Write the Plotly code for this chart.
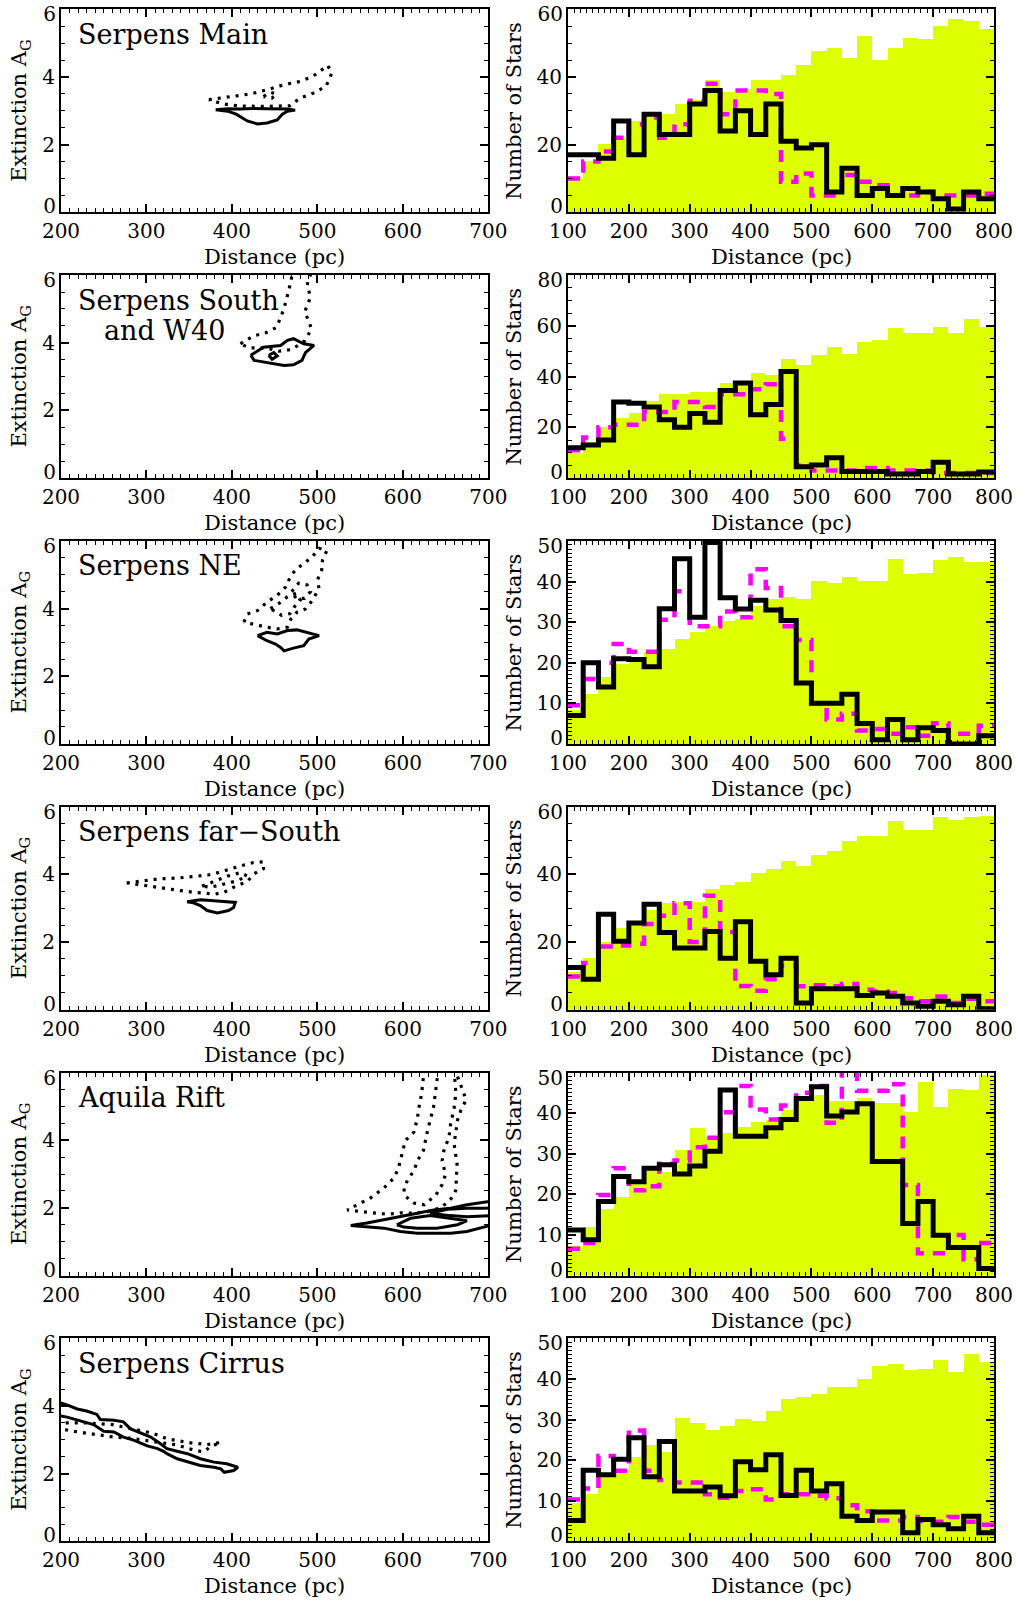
import plotly.graph_objects as go

W, H = 1016, 1600
FONT = "DejaVu Serif"
YEL = "#DDFF00"
MAG = "#FF00FF"

# ---------------- histogram data (bins of 25 pc from 100 to 800) ----------------
bin_edges = list(range(100, 801, 25))

bg1 = [10, 15, 20, 22, 27, 28.5, 29, 32, 33, 39, 35.5, 36.5, 39, 39, 40.5, 43.5, 47.5, 48.5, 45.5, 52, 45, 48.5, 51.5, 51, 55, 57, 56.5, 54]
on1 = [17, 17, 16, 27, 17, 29, 23, 23, 32, 36, 24, 30, 23, 32, 21, 19, 20, 6, 13, 5, 7, 5, 7, 6, 4, 1, 6, 4]
mc1 = [10, 15, 18, 22, 26, 28, 22, 26, 33, 38, 29, 36, 36, 35, 9, 11.5, 5, 5, 11, 9, 8, 5, 5, 6, 5, 5, 5, 5.5]

bg2 = [10, 14, 20, 23.5, 25.5, 30.5, 33, 33, 34, 34, 37.5, 38, 41.5, 40.5, 47, 44.5, 48.5, 51.5, 49, 53.5, 54.5, 59, 57, 57, 59.5, 57, 62.5, 59.5]
on2 = [12, 13, 15, 30, 29.5, 28, 23, 20, 25.5, 22, 34.5, 37.5, 25, 29, 42, 4.5, 5.2, 8, 2.6, 2.6, 2.6, 1.6, 1.6, 2.6, 6.2, 1.6, 1.6, 2.4]
mc2 = [11, 16, 20, 21, 21, 26, 26, 30, 30, 28, 33, 33, 35, 37, 15.5, 5, 3, 3, 3, 4, 4, 3, 3, 3, 2, 2, 2, 2]

bg3 = [8.3, 12.4, 16.5, 19.8, 20.7, 22.7, 23.5, 25.8, 27.7, 29, 30.2, 30.7, 33.9, 35.8, 36.1, 35.8, 40.2, 39.7, 41.2, 40.1, 40.1, 45.5, 41.9, 42, 45.3, 46.1, 44.9, 44.9]
on3 = [7, 20, 14, 21, 20.8, 19, 33.3, 45.6, 31.2, 49.6, 36, 33.2, 35.4, 33, 30.4, 15, 10, 10, 12.2, 5, 1, 6, 1, 4, 3.3, 0, 0, 2]
mc3 = [9.5, 16, 20, 24.6, 22.7, 22.7, 30.6, 37.6, 29, 29, 32.6, 31.2, 43, 38.4, 29, 25.6, 10, 6, 7.4, 3.3, 3.7, 2.5, 4.1, 2, 5.1, 2.5, 2.5, 4.5]

bg4 = [11.3, 15.5, 20.2, 24.1, 26, 29.5, 31.5, 31.8, 31.8, 35.9, 37, 37.9, 40.6, 41.6, 44, 42.5, 45.9, 46.9, 50, 51.4, 51.4, 56, 53.1, 53.3, 57, 56.3, 57, 57.3]
on4 = [12.5, 9, 28.2, 20.2, 25.6, 31.2, 22.8, 18.2, 18.2, 23.1, 15.2, 26, 14.3, 10.3, 15.2, 2, 6.2, 6.2, 6.2, 4.2, 4.9, 4, 2, 1, 2.5, 1.5, 4, 0.3]
mc4 = [9.8, 13.8, 18.7, 19, 19.5, 25.3, 27.8, 31.5, 20, 33.7, 23, 7, 5.6, 9, 13, 6.9, 7.2, 6.9, 7.6, 5.9, 5.4, 4.9, 3.4, 2.5, 3.9, 2, 3.2, 2.5]

bg5 = [7.4, 12, 16.5, 19.4, 23.1, 26.9, 25.6, 31, 36.4, 34.3, 35.1, 36.8, 38, 38.4, 40.9, 43.4, 44.6, 43, 43, 43.8, 42.6, 42.6, 40.5, 47.9, 41.7, 46, 45.7, 49.6]
on5 = [11.2, 8.8, 18.2, 24.4, 23.1, 26.4, 27.3, 25, 27, 30.6, 45.7, 34.3, 34.3, 36.4, 38.4, 43.6, 46.5, 39.3, 40.3, 42.3, 28.1, 28.1, 12.8, 18.2, 9.9, 6.9, 6.9, 1.7]
mc5 = [6.6, 8, 19.8, 26.4, 21, 22, 27.5, 28.3, 31.6, 33.9, 40.2, 46.7, 40.9, 38.4, 41.9, 45, 46.7, 37.6, 50.5, 45.5, 45.5, 47.1, 22.3, 5.5, 5.5, 10, 4, 8]

bg6 = [9.3, 11.7, 15.7, 17.8, 20.8, 23.7, 21.9, 30.2, 29.1, 27.3, 28.3, 30, 29.6, 32.1, 34.9, 35.4, 36.2, 37.9, 37.9, 39.8, 43, 43.6, 42, 42.3, 44.5, 41.7, 46.1, 44.2]
on6 = [5.1, 17.5, 16.4, 20.2, 25.5, 15.9, 24.6, 12.4, 12.4, 13.4, 11.2, 19.6, 17.6, 21.3, 11.3, 17.5, 12.4, 14.2, 6.2, 5.1, 7.2, 7.2, 2.1, 5.4, 4.1, 3.1, 6.2, 2.1]
mc6 = [10.3, 13, 21, 17.4, 27.3, 17.4, 15.1, 14.5, 14.5, 11.6, 10.7, 12.4, 12.8, 10.3, 11.6, 11.6, 11.2, 10.6, 8.9, 7.4, 5.1, 5.1, 6, 5, 4.8, 6, 4.8, 4.1]

hist_ymax = [60, 80, 50, 60, 50, 50]
hist_dtick = [20, 20, 10, 20, 10, 10]
hist_minor = [5, 5, 1, 5, 1, 1]

# ---------------- contour data (distance pc, extinction A_G) ----------------
c1_solid_d = [381, 395, 410, 425, 440, 455, 465, 474, 465, 459, 453, 441, 430, 418, 405, 395, 381]
c1_solid_a = [3.03, 3.06, 3.05, 3.07, 3.06, 3.06, 3.05, 3.02, 2.99, 2.9, 2.73, 2.64, 2.61, 2.7, 2.9, 2.99, 3.03]
c1_dot_d = [373, 402, 422, 441, 461, 480, 495, 512, 517, 510, 495, 480, 468, 440, 410, 390, 373]
c1_dot_a = [3.33, 3.43, 3.5, 3.62, 3.77, 3.87, 4.02, 4.34, 4.12, 3.72, 3.52, 3.38, 3.15, 3.13, 3.14, 3.2, 3.33]
c1_dot2_d = [437, 445, 452, 447, 437]
c1_dot2_a = [3.42, 3.55, 3.5, 3.38, 3.42]

c2_solid_d = [422, 437, 457, 465, 472, 484, 496, 486, 482, 472, 461, 449, 437, 426, 422]
c2_solid_a = [3.63, 3.87, 3.92, 4.07, 4.12, 3.97, 3.92, 3.71, 3.48, 3.35, 3.33, 3.38, 3.43, 3.48, 3.63]
c2_solid2_d = [443, 449, 453, 447, 443]
c2_solid2_a = [3.63, 3.71, 3.61, 3.51, 3.63]
c2_dot_d = [410, 425, 440, 452, 458, 463, 467, 470, 473, 497, 490, 488, 492, 485, 490, 493, 485, 470, 455, 440, 420, 410]
c2_dot_a = [3.97, 4.2, 4.3, 4.45, 4.8, 5.2, 5.6, 6.0, 6.3, 6.3, 5.9, 5.7, 5.35, 4.9, 4.65, 4.4, 4.05, 3.8, 3.75, 3.85, 3.85, 3.97]

c3_solid_d = [430, 441, 453, 465, 476, 488, 502, 490, 484, 472, 461, 457, 451, 441, 430]
c3_solid_a = [3.2, 3.3, 3.25, 3.35, 3.37, 3.3, 3.2, 3.1, 2.9, 2.83, 2.75, 2.85, 2.95, 3.05, 3.2]
c3_dot_d = [414, 418, 430, 441, 453, 463, 469, 476, 484, 494, 502, 511, 506, 505, 500, 502, 494, 486, 476, 469, 465, 453, 441, 426, 414]
c3_dot_a = [3.6, 3.84, 3.94, 4.19, 4.39, 4.64, 4.98, 5.18, 5.33, 5.53, 5.78, 5.71, 5.43, 5.13, 4.84, 4.59, 4.24, 3.99, 3.89, 3.69, 3.45, 3.4, 3.45, 3.52, 3.6]
c3_dot2_d = [445, 455, 465, 475, 480, 473, 468, 458, 445]
c3_dot2_a = [4.0, 4.15, 4.35, 4.45, 4.25, 4.05, 3.85, 3.8, 4.0]
c3_dot3_d = [470, 478, 488, 492, 485, 475, 470]
c3_dot3_a = [4.5, 4.75, 4.7, 4.5, 4.3, 4.3, 4.5]

c4_solid_d = [347.5, 363, 379, 394, 404, 402, 396, 383, 371, 363, 355, 347.5]
c4_solid_a = [3.19, 3.25, 3.22, 3.19, 3.17, 3.02, 2.93, 2.86, 2.93, 3.08, 3.16, 3.19]
c4_dot_d = [277, 297, 316, 336, 351, 361, 372, 384, 396, 410, 425, 437, 437, 426, 418, 402, 391, 379, 367, 355, 340, 320, 301, 285, 277]
c4_dot_a = [3.75, 3.82, 3.87, 3.89, 3.92, 3.95, 3.98, 4.05, 4.15, 4.25, 4.35, 4.37, 4.17, 4.02, 3.79, 3.62, 3.47, 3.41, 3.45, 3.47, 3.52, 3.59, 3.67, 3.72, 3.75]
c4_dot2_d = [365, 380, 395, 410, 418, 405, 390, 375, 365]
c4_dot2_a = [3.65, 3.8, 3.95, 4.05, 3.95, 3.8, 3.7, 3.62, 3.65]

c5_solid_d = [705, 695, 675, 656, 636, 617, 597, 578, 558, 539, 558, 578, 597, 617, 636, 656, 675, 699, 705]
c5_solid_a = [2.2, 2.17, 2.09, 1.99, 1.94, 1.84, 1.74, 1.65, 1.55, 1.48, 1.45, 1.4, 1.3, 1.25, 1.25, 1.25, 1.3, 1.48, 1.5]
c5_solid2_d = [593, 609, 632, 652, 675, 664, 640, 617, 601, 593]
c5_solid2_a = [1.5, 1.69, 1.77, 1.69, 1.62, 1.5, 1.4, 1.4, 1.43, 1.5]
c5_solid3_d = [705, 697, 675, 652, 632, 655, 675, 697, 705]
c5_solid3_a = [2.0, 1.99, 1.99, 1.96, 1.84, 1.77, 1.74, 1.76, 1.77]
c5_dot_d = [625, 622, 619, 617, 613, 603, 599, 595, 590, 578, 562, 535, 550, 566, 582, 597, 613, 629, 643, 654, 660, 663, 662, 664, 662, 660, 662, 664, 668, 674, 670, 664, 662]
c5_dot_a = [6.1, 5.38, 4.99, 4.64, 4.24, 3.99, 3.59, 3.19, 2.89, 2.59, 2.29, 1.94, 1.89, 1.84, 1.81, 1.85, 1.84, 1.89, 1.99, 2.19, 2.39, 2.59, 2.89, 3.19, 3.49, 3.89, 4.24, 4.59, 4.89, 5.19, 5.48, 5.88, 6.1]
c5_dot2_d = [641, 640, 636, 629, 624, 617, 613, 607, 601, 603, 613, 625, 639, 646, 650, 646, 648, 654, 656, 660, 662, 660]
c5_dot2_a = [6.1, 5.78, 4.99, 4.29, 3.69, 3.39, 3.09, 2.89, 2.59, 2.34, 2.14, 2.09, 2.39, 2.69, 2.99, 3.39, 3.69, 4.09, 4.49, 4.95, 5.38, 6.1]

c6_solid_d = [195, 207, 219, 230, 242, 246, 262, 273, 281, 293, 305, 316, 324, 336, 348, 363, 379, 394, 407,
              402, 391, 387, 379, 363, 348, 336, 324, 320, 313, 301, 285, 273, 262, 250, 238, 227, 219, 207, 195]
c6_solid_a = [4.12, 4.03, 3.91, 3.85, 3.75, 3.6, 3.58, 3.53, 3.33, 3.21, 3.08, 2.89, 2.74, 2.66, 2.59, 2.44, 2.34, 2.29, 2.19,
              2.09, 2.04, 2.14, 2.19, 2.24, 2.34, 2.44, 2.59, 2.66, 2.74, 2.82, 2.99, 3.08, 3.23, 3.25, 3.45, 3.53, 3.58, 3.67, 3.73]
c6_dot_d = [195, 230, 260, 290, 301, 312, 324, 336, 348, 359, 371, 387, 375, 367, 355, 335, 310, 280, 262, 246, 230, 215, 195]
c6_dot_a = [3.5, 3.5, 3.45, 3.3, 3.23, 3.15, 3.03, 2.98, 2.92, 2.89, 2.86, 2.92, 2.8, 2.64, 2.7, 2.85, 2.95, 3.05, 3.08, 3.13, 3.18, 3.25, 3.35]

region_names = ["Serpens Main", "Serpens South", "Serpens NE", "Serpens far\u2212South", "Aquila Rift", "Serpens Cirrus"]

solid_sets = [
    [(c1_solid_d, c1_solid_a)],
    [(c2_solid_d, c2_solid_a), (c2_solid2_d, c2_solid2_a)],
    [(c3_solid_d, c3_solid_a)],
    [(c4_solid_d, c4_solid_a)],
    [(c5_solid_d, c5_solid_a), (c5_solid2_d, c5_solid2_a), (c5_solid3_d, c5_solid3_a)],
    [(c6_solid_d, c6_solid_a)],
]
dot_sets = [
    [(c1_dot_d, c1_dot_a), (c1_dot2_d, c1_dot2_a)],
    [(c2_dot_d, c2_dot_a)],
    [(c3_dot_d, c3_dot_a), (c3_dot2_d, c3_dot2_a), (c3_dot3_d, c3_dot3_a)],
    [(c4_dot_d, c4_dot_a), (c4_dot2_d, c4_dot2_a)],
    [(c5_dot_d, c5_dot_a), (c5_dot2_d, c5_dot2_a)],
    [(c6_dot_d, c6_dot_a)],
]
hists = [(bg1, on1, mc1), (bg2, on2, mc2), (bg3, on3, mc3), (bg4, on4, mc4), (bg5, on5, mc5), (bg6, on6, mc6)]

# ---------------- layout geometry (pixels) ----------------
ROW_TOP0, ROW_PITCH, PH = 9.3, 265.8, 203.0
LX0, LX1 = 61.0, 488.3
RX0, RX1 = 568.0, 994.0

fig = go.Figure()
layout = dict(width=W, height=H, margin=dict(l=0, r=0, t=0, b=0, pad=0, autoexpand=False),
              paper_bgcolor="white", plot_bgcolor="white", showlegend=False,
              bargap=0, barmode="overlay", annotations=[])
TICKFONT = dict(family=FONT, size=20, color="black")

def ax_common(rng, dtick, tick0, minor):
    return dict(range=rng, tickmode="linear", tick0=tick0, dtick=dtick, automargin=False,
                ticks="inside", ticklen=8, tickwidth=1.5, tickcolor="black",
                showline=True, linewidth=2, linecolor="black", mirror="ticks",
                showgrid=False, zeroline=False, ticklabeloverflow="allow",
                tickfont=TICKFONT,
                minor=dict(tickmode="linear", dtick=minor, tick0=tick0, ticks="inside", ticklen=4,
                           tickwidth=1, tickcolor="black", showgrid=False))

def end_label_axis(base_y, base_x, rng, val, shift):
    # extra overlaying axis carrying one end label, nudged inside the frame like the original
    return dict(overlaying=base_y, anchor=base_x, side="left", range=rng, automargin=False,
                tickmode="array", tickvals=[val], ticktext=[f"{val:g}"], ticklabelshift=shift,
                ticklabelstandoff=4, ticks="", showline=False, showgrid=False, zeroline=False,
                ticklabeloverflow="allow", tickfont=TICKFONT)

def ann(text, px, py, size, xanchor="center", yanchor="middle", angle=0):
    return dict(text=text, x=px / W, y=1 - py / H, xref="paper", yref="paper",
                showarrow=False, xanchor=xanchor, yanchor=yanchor, textangle=angle,
                font=dict(family=FONT, size=size, color="black"))

def hook(xname, yname):
    # empty trace so that the overlaying label axis gets rendered
    fig.add_trace(go.Scatter(x=[None], y=[None], mode="lines", xaxis=xname, yaxis=yname,
                             hoverinfo="skip", showlegend=False))

extra = 13
for i in range(6):
    top = ROW_TOP0 + ROW_PITCH * i
    bot = top + PH
    ydom = [1 - bot / H, 1 - top / H]
    kl, kr = 2 * i + 1, 2 * i + 2
    xl, yl = f"x{kl}", f"y{kl}"
    xr, yr = f"x{kr}", f"y{kr}"

    # left: contour panel
    ax = ax_common([200, 700], 100, 200, 10)
    ax.update(domain=[LX0 / W, LX1 / W], anchor=yl)
    layout[f"xaxis{kl}"] = ax
    ay = ax_common([0, 6], 2, 0, 0.5)
    ay.update(domain=ydom, anchor=xl, tickmode="array", tickvals=[0, 2, 4, 6], ticktext=["", "2", "4", ""])
    layout[f"yaxis{kl}"] = ay
    for val, sh in ((0, -6), (6, 5)):
        layout[f"yaxis{extra}"] = end_label_axis(yl, xl, [0, 6], val, sh)
        hook(xl, f"y{extra}")
        extra += 1

    for (dd, aa) in dot_sets[i]:
        fig.add_trace(go.Scatter(x=dd, y=aa, mode="lines", xaxis=xl, yaxis=yl,
                                 line=dict(color="black", width=3.2, dash="3px,6px"),
                                 hoverinfo="skip"))
    for (dd, aa) in solid_sets[i]:
        fig.add_trace(go.Scatter(x=dd, y=aa, mode="lines", xaxis=xl, yaxis=yl,
                                 line=dict(color="black", width=3), hoverinfo="skip"))

    # right: histogram panel
    bg, on, mc = hists[i]
    ymax = hist_ymax[i]
    ax = ax_common([100, 800], 100, 100, 10)
    ax.update(domain=[RX0 / W, RX1 / W], anchor=yr)
    layout[f"xaxis{kr}"] = ax
    ay = ax_common([0, ymax], hist_dtick[i], 0, hist_minor[i])
    tv = list(range(0, ymax + 1, hist_dtick[i]))
    ay.update(domain=ydom, anchor=xr, tickmode="array", tickvals=tv,
              ticktext=[""] + [str(v) for v in tv[1:-1]] + [""])
    layout[f"yaxis{kr}"] = ay

    centers = [(bin_edges[j] + bin_edges[j + 1]) / 2 for j in range(len(bg))]
    fig.add_trace(go.Bar(x=centers, y=bg, width=25, xaxis=xr, yaxis=yr,
                         marker=dict(color=YEL, line=dict(width=0)), hoverinfo="skip"))
    fig.add_trace(go.Scatter(x=bin_edges, y=mc + [mc[-1]], mode="lines", line_shape="hv",
                             xaxis=xr, yaxis=yr,
                             line=dict(color=MAG, width=4.5, dash="12px,9px"), hoverinfo="skip"))
    fig.add_trace(go.Scatter(x=bin_edges, y=on + [on[-1]], mode="lines", line_shape="hv",
                             xaxis=xr, yaxis=yr,
                             line=dict(color="black", width=5), hoverinfo="skip"))
    for val, sh in ((0, -6), (ymax, 5)):
        layout[f"yaxis{extra}"] = end_label_axis(yr, xr, [0, ymax], val, sh)
        hook(xr, f"y{extra}")
        extra += 1

    # texts
    layout["annotations"].append(ann(region_names[i], 76, top + 25, 27, xanchor="left"))
    if i == 1:
        layout["annotations"].append(ann("and W40", 102, top + 55, 27, xanchor="left"))
    layout["annotations"].append(ann("Distance (pc)", (LX0 + LX1) / 2, bot + 45, 21))
    layout["annotations"].append(ann("Distance (pc)", (RX0 + RX1) / 2, bot + 45, 21))
    layout["annotations"].append(ann("Extinction A<sub>G</sub>", 20, (top + bot) / 2, 21, angle=-90))
    layout["annotations"].append(ann("Number of Stars", 514, (top + bot) / 2, 21, angle=-90))

fig.update_layout(**layout)
fig.write_html("out.html", config={"displayModeBar": False},
               post_script="document.body.style.margin='0';document.body.style.padding='0';"
                           "document.documentElement.style.overflow='hidden';")
